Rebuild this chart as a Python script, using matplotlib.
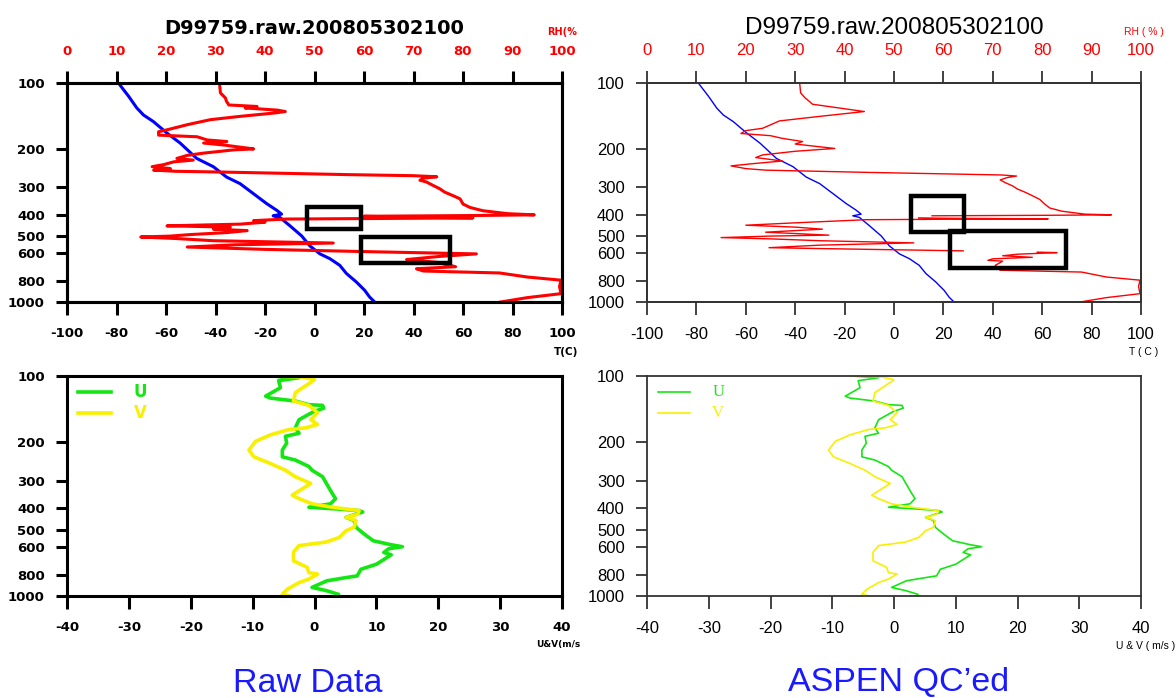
import numpy as np
import matplotlib.pyplot as plt
from matplotlib.patches import Rectangle
from matplotlib.ticker import NullLocator

# temperature profile (same in both soundings)
p_t = [100, 105, 115, 130, 140, 150, 169, 188, 221, 241, 269, 288, 320, 355, 381, 397,
       404, 411, 449, 499, 554, 603, 634, 680, 741, 810, 885, 950, 1000]
temp = [-79.2, -77.8, -75.1, -71.8, -69.1, -65.1, -59.7, -54.3, -47.6, -40.9, -35.5, -30.1,
        -24.7, -19.4, -15.3, -13.3, -16.7, -14.0, -9.9, -5.2, -1.9, 2.2, 6.2, 10.2, 12.9,
        16.9, 20.3, 22.3, 24.3]

# relative humidity, raw data
p_rh_raw = [100, 111, 117, 121, 126, 128, 130, 133, 135, 137, 142, 147, 155, 163, 167, 173,
            176, 182, 185, 188, 192, 197, 200, 202, 209, 214, 221, 225, 229, 236, 241, 246,
            250, 253, 255, 259, 262, 265, 268, 272, 278, 283, 294, 304, 315, 327, 338, 357,
            370, 383, 395, 400, 403, 406, 410, 413, 416, 418, 425, 432, 441, 449, 455, 465,
            472, 482, 492, 500, 505, 513, 525, 538, 548, 561, 575, 588, 603, 620, 640, 660,
            690, 705, 722, 737, 769, 795, 850, 916, 955, 980, 1000]
rh_raw = [30.8, 31.0, 32.0, 32.2, 32.7, 38.4, 36.0, 42.5, 44.1, 42.0, 35.0, 29.0, 24.3, 20.5,
          18.5, 18.5, 26.3, 28.3, 32.3, 27.6, 31.7, 35.5, 37.7, 33.7, 27.6, 24.3, 22.2, 25.5,
          21.6, 19.5, 17.2, 20.9, 17.5, 22.0, 31.0, 45.8, 56.5, 70.0, 74.7, 72.0, 71.3, 72.6,
          74.0, 75.3, 76.3, 78.0, 79.4, 80.0, 81.4, 84.0, 89.0, 94.4, 81.0, 60.0, 70.0, 82.0,
          60.0, 44.4, 37.7, 40.0, 35.0, 20.2, 33.0, 29.6, 36.4, 32.3, 25.0, 20.9, 14.9, 22.0,
          29.6, 53.8, 34.0, 24.3, 40.0, 59.2, 82.7, 75.0, 68.6, 75.0, 78.5, 70.6, 72.0, 87.4,
          93.0, 99.8, 99.5, 99.8, 93.0, 90.0, 87.6]

# relative humidity, ASPEN QC'ed (nan = removed points)
p_rh_qc = [100, 111, 117, 121, 125, 135, 142, 149, 161, 165, 170, 174, 179, 185, 190, 199,
           205, 213, 219, 227, 234, 239, 246, 250, 256, 263, 266, 270, 277, 285, 295, 305,
           315, 327, 340, 357, 372, 385, 397, 400, 402, 404, 405, 413, 415, 417, 419, 421,
           423, 435, 446, 455, 465, 472, 480, 495, 500, 508, 515, 525, 537, 550, 565, 575,
           584, 588, 592, 595, 605, 615, 625, 635, 645, 651, 680, 700, 716, 730, 769, 795,
           850, 916, 955, 980, 1000]
rh_qc = [30.9, 31.1, 32.0, 32.8, 33.5, 44.0, 35.0, 26.8, 23.4, 20.0, 19.0, 25.0, 27.4, 31.5,
         30.0, 38.0, 30.0, 23.4, 22.0, 27.4, 21.0, 17.0, 20.0, 24.0, 44.9, 71.8, 74.8, 73.0,
         71.5, 72.5, 74.0, 75.0, 76.5, 78.0, 79.5, 80.5, 81.5, 84.0, 88.6, 94.0, 80.0, 57.7,
         np.nan, 55.0, 62.0, 81.2, 60.0, 44.0, 42.2, 30.0, 20.0, 30.0, 35.5, 30.0, 24.0, 36.8,
         25.0, 15.0, 25.0, 35.0, 54.0, 35.0, 24.7, 45.0, 64.0, np.nan, 79.0, 83.0, 75.0, 72.0,
         78.0, 70.0, 69.0, 72.0, 70.5, 71.0, 71.5, 88.0, 93.0, 99.8, 99.5, 99.8, 93.0, 90.0,
         87.7]

# wind components
p_u = [100, 101.8, 105, 113, 123.5, 126, 130, 135, 136, 140, 145, 158, 172, 182, 188, 202,
       217, 233, 241, 258, 268, 287, 314, 343, 361, 381, 395, 402, 409, 415, 439, 454, 487,
       522, 561, 585, 597, 610, 634, 650, 717, 756, 810, 830, 853, 914, 947, 983, 1000]
u_wind = [-7.0, -2.5, -5.8, -5.5, -7.9, -7.1, -3.1, -0.9, 1.3, 1.5, -0.1, -2.5, -3.1, -2.5,
          -4.7, -4.5, -5.2, -5.2, -3.1, -0.9, -0.4, 1.3, 2.1, 2.9, 3.4, 2.6, -0.9, 3.5, 7.2,
          7.8, 5.1, 6.4, 6.7, 8.0, 9.5, 12.4, 14.2, 12.0, 11.2, 12.4, 10.0, 7.5, 6.9, 4.5, 2.0,
          -0.4, 2.0, 3.9, 3.6]
p_v = [100, 101, 104, 106, 119, 130, 136, 147, 158, 166, 172, 175, 185, 198, 217, 233, 250,
       268, 287, 308, 348, 361, 381, 395, 409, 425, 439, 454, 487, 505, 542, 569, 590, 632,
       692, 740, 783, 795, 837, 869, 932, 981, 1000]
v_wind = [-7.0, -2.0, 0.0, -0.4, -3.1, -3.4, -0.9, 0.5, -0.6, 0.5, -1.4, -4.1, -7.1, -9.5,
          -10.6, -9.8, -7.1, -4.7, -3.1, -0.6, -3.6, -2.5, -0.4, 2.9, 7.2, 7.0, 5.1, 6.7, 6.4,
          5.1, 4.0, 1.8, -2.5, -3.4, -3.4, -1.2, -0.9, 0.5, -0.9, -2.5, -4.4, -5.2, -4.0]

# highlighted boxes (T range, pressure range)
boxes_raw = [(-3.0, 18.8, 369, 466), (18.8, 54.8, 503, 667)]
boxes_qc = [(6.9, 28.5, 327, 477), (22.8, 69.5, 476, 699)]

p_ticks = [100, 200, 300, 400, 500, 600, 800, 1000]
t_ticks = list(range(-100, 101, 20))
rh_ticks = list(range(0, 101, 10))
uv_ticks = list(range(-40, 41, 10))
title = 'D99759.raw.200805302100'

W, H = 1176, 698
fig = plt.figure(figsize=(W / 100, H / 100), dpi=100)

left_font = dict(family='DejaVu Sans', weight='bold')
right_font = dict(family='Liberation Sans', weight='normal')


def rect(x0, x1, y0, y1):
    return [x0 / W, 1 - y1 / H, (x1 - x0) / W, (y1 - y0) / H]


def frame(ax, lw, col):
    for s in ax.spines.values():
        s.set_linewidth(lw)
        s.set_color(col)


def p_axis(ax, font, size, lw, col):
    ax.set_yscale('log')
    ax.set_ylim(1000, 100)
    ax.set_yticks(p_ticks)
    ax.set_yticklabels([str(p) for p in p_ticks], fontsize=size, **font)
    ax.yaxis.set_minor_locator(NullLocator())
    ax.tick_params(axis='y', direction='out', length=8, width=lw, color=col, pad=8)


def top_panel(x0, x1, p_rh, rh, boxes, font, size, tsize, lw, lw_frame, col):
    ax = fig.add_axes(rect(x0, x1, 83, 302))
    ax.plot(temp, p_t, color='#0000ff', lw=lw)
    ax.set_xlim(-100, 100)
    p_axis(ax, font, size, lw_frame, col)
    ax.set_xticks(t_ticks)
    ax.set_xticklabels([str(t) for t in t_ticks], fontsize=size, **font)
    ax.tick_params(axis='x', direction='out', length=9, width=lw_frame, color=col, pad=9)
    frame(ax, lw_frame, col)

    ax2 = ax.twiny()
    ax2.plot(rh, p_rh, color='#ff0000', lw=lw)
    ax2.set_xlim(0, 100)
    ax2.set_xticks(rh_ticks)
    ax2.set_xticklabels([str(r) for r in rh_ticks], fontsize=size, color='#ff0000', **font)
    ax2.tick_params(axis='x', direction='out', length=9, width=lw_frame, color=col, pad=9)
    frame(ax2, lw_frame, col)
    for t0, t1, pa, pb in boxes:
        ax2.add_patch(Rectangle((t0, pa), t1 - t0, pb - pa, transform=ax.transData,
                                fill=False, ec='black', lw=3.2, zorder=5))
    ax2.set_title(title, fontsize=tsize, pad=35, **font)
    return ax


def wind_panel(x0, x1, font, size, lw, lw_frame, col, leg_font, leg_x):
    ax = fig.add_axes(rect(x0, x1, 376, 596))
    ax.plot(u_wind, p_u, color='#14e614', lw=lw, label='U')
    ax.plot(v_wind, p_v, color='#f8f000', lw=lw, label='V')
    ax.set_xlim(-40, 40)
    p_axis(ax, font, size, lw_frame, col)
    ax.set_xticks(uv_ticks)
    ax.set_xticklabels([str(u) for u in uv_ticks], fontsize=size, **font)
    ax.tick_params(axis='x', direction='out', length=9, width=lw_frame, color=col, pad=9)
    frame(ax, lw_frame, col)
    # legend
    for yy, c, lab in [(0.927, '#14e614', 'U'), (0.832, '#f8f000', 'V')]:
        ax.plot([0.022, 0.088], [yy, yy], transform=ax.transAxes, color=c, lw=lw)
        ax.text(leg_x, yy, lab, transform=ax.transAxes, color=c, va='center', ha='left',
                fontsize=12, **leg_font)
    return ax


# raw data (left)
top_panel(67, 562, p_rh_raw, rh_raw, boxes_raw, left_font, 9.5, 14, 2.2, 2.2, 'black')
wind_panel(67, 562, left_font, 9.5, 2.6, 2.2, 'black', left_font, 0.135)

# ASPEN QC'ed (right)
top_panel(647, 1141, p_rh_qc, rh_qc, boxes_qc, right_font, 12, 17.5, 1.0, 1.3, '#333333')
wind_panel(647, 1141, right_font, 12, 1.2, 1.3, '#333333',
           dict(family='Liberation Serif'), 0.132)

# small axis captions
fig.text(577 / W, 1 - 32 / H, 'RH(%', color='#ff0000', fontsize=7, ha='right',
         va='center', **left_font)
fig.text(1164 / W, 1 - 32 / H, 'RH ( % )', color='#ff0000', fontsize=7.5, ha='right',
         va='center', **right_font)
fig.text(578 / W, 1 - 352 / H, 'T(C)', fontsize=7.5, ha='right', va='center', **left_font)
fig.text(1158 / W, 1 - 352 / H, 'T ( C )', fontsize=7.5, ha='right', va='center',
         **right_font)
fig.text(580 / W, 1 - 645 / H, 'U&V(m/s', fontsize=6.5, ha='right', va='center',
         **left_font)
fig.text(1175 / W, 1 - 646 / H, 'U & V ( m/s )', fontsize=7.5, ha='right', va='center',
         **right_font)

# panel captions
fig.text(308 / W, 1 - 692 / H, 'Raw Data', color='#1a1aff', fontsize=24.5, ha='center',
         va='baseline', family='Liberation Sans')
fig.text(899 / W, 1 - 691 / H, 'ASPEN QC\u2019ed', color='#1a1aff', fontsize=24.5,
         ha='center', va='baseline', family='Liberation Sans')

fig.savefig('out.png', dpi=100)
